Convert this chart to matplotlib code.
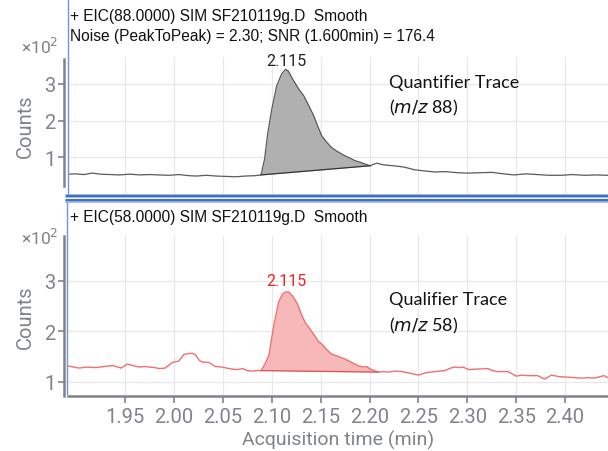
import matplotlib
matplotlib.use("Agg")
import matplotlib.pyplot as plt
from matplotlib.lines import Line2D
import numpy as np

# ---------------- data (counts in units of 10^2) ----------------
quant_time = [1.892, 1.899, 1.908, 1.916, 1.925, 1.935, 1.944, 1.955, 1.965, 1.975,
              1.984, 1.995, 2.005, 2.015, 2.023, 2.033, 2.043, 2.053, 2.063, 2.073,
              2.083, 2.089, 2.0926, 2.096, 2.100, 2.105, 2.110, 2.114, 2.117, 2.121,
              2.1276, 2.1327, 2.138, 2.1428, 2.147, 2.151, 2.156, 2.161, 2.167, 2.175,
              2.180, 2.185, 2.190, 2.195, 2.2006, 2.204, 2.208, 2.213, 2.220, 2.228,
              2.236, 2.246, 2.256, 2.267, 2.278, 2.290, 2.301, 2.313, 2.325, 2.337,
              2.348, 2.360, 2.372, 2.384, 2.396, 2.408, 2.420, 2.432, 2.444]
quant_counts = [0.54, 0.55, 0.53, 0.57, 0.54, 0.53, 0.52, 0.54, 0.52, 0.53,
                0.52, 0.51, 0.53, 0.50, 0.49, 0.51, 0.49, 0.48, 0.47, 0.49,
                0.50, 0.52, 0.95, 1.68, 2.31, 2.95, 3.27, 3.40, 3.35, 3.15,
                2.86, 2.68, 2.40, 2.14, 1.85, 1.59, 1.42, 1.27, 1.16, 1.04,
                0.98, 0.91, 0.87, 0.82, 0.77, 0.81, 0.84, 0.80, 0.78, 0.76,
                0.73, 0.66, 0.63, 0.60, 0.61, 0.58, 0.57, 0.58, 0.59, 0.55,
                0.52, 0.55, 0.53, 0.51, 0.51, 0.53, 0.51, 0.52, 0.51]
quant_peak = [2.089, 2.2006]          # integration start / end (min)
quant_rt = 2.115

qual_time = [1.892, 1.897, 1.903, 1.910, 1.920, 1.928, 1.937, 1.946, 1.952, 1.958,
             1.964, 1.970, 1.975, 1.980, 1.985, 1.991, 1.998, 2.005, 2.010, 2.015,
             2.019, 2.022, 2.026, 2.029, 2.036, 2.042, 2.049, 2.054, 2.059, 2.065,
             2.070, 2.075, 2.080, 2.085, 2.089, 2.093, 2.097, 2.102, 2.107, 2.111,
             2.114, 2.117, 2.119, 2.122, 2.126, 2.130, 2.134, 2.140, 2.145, 2.148,
             2.151, 2.156, 2.161, 2.168, 2.175, 2.182, 2.189, 2.194, 2.197, 2.202,
             2.209, 2.214, 2.219, 2.226, 2.233, 2.241, 2.250, 2.258, 2.267, 2.277,
             2.283, 2.287, 2.292, 2.296, 2.301, 2.310, 2.321, 2.326, 2.331, 2.342,
             2.350, 2.356, 2.362, 2.372, 2.379, 2.386, 2.394, 2.403, 2.410, 2.417,
             2.424, 2.430, 2.436, 2.440, 2.444]
qual_counts = [1.31, 1.29, 1.27, 1.29, 1.28, 1.30, 1.32, 1.27, 1.35, 1.32,
               1.29, 1.30, 1.29, 1.28, 1.26, 1.27, 1.38, 1.41, 1.54, 1.56,
               1.56, 1.53, 1.42, 1.39, 1.38, 1.30, 1.29, 1.27, 1.25, 1.24,
               1.26, 1.22, 1.21, 1.22, 1.22, 1.35, 1.52, 2.11, 2.58, 2.74,
               2.78, 2.78, 2.75, 2.68, 2.55, 2.35, 2.18, 2.02, 1.88, 1.79,
               1.75, 1.64, 1.55, 1.50, 1.45, 1.38, 1.31, 1.29, 1.30, 1.24,
               1.19, 1.20, 1.19, 1.21, 1.20, 1.17, 1.13, 1.18, 1.20, 1.22,
               1.27, 1.29, 1.28, 1.29, 1.24, 1.25, 1.26, 1.22, 1.20, 1.20,
               1.11, 1.13, 1.12, 1.12, 1.05, 1.13, 1.10, 1.09, 1.08, 1.07,
               1.08, 1.07, 1.10, 1.12, 1.08]
qual_peak = [2.089, 2.209]
qual_rt = 2.115

x_ticks = [1.95, 2.00, 2.05, 2.10, 2.15, 2.20, 2.25, 2.30, 2.35, 2.40]
y_ticks = [1, 2, 3]

title1 = "+ EIC(88.0000) SIM SF210119g.D  Smooth"
title1b = "Noise (PeakToPeak) = 2.30; SNR (1.600min) = 176.4"
title2 = "+ EIC(58.0000) SIM SF210119g.D  Smooth"

# ---------------- figure ----------------
W, H = 608, 452
fig = plt.figure(figsize=(W / 100, H / 100), dpi=100)

def px_rect(l, t, r, b):
    return [l / W, 1 - b / H, (r - l) / W, (b - t) / H]

GRAY = "#808389"
GRID = "#e8e8e8"
TICKFONT = "Roboto"

ax1 = fig.add_axes(px_rect(68, 58, 608, 195))
ax2 = fig.add_axes(px_rect(68, 237, 608, 397))

xlim = (1.8915, 2.444)
ax1.set_xlim(*xlim)
ax2.set_xlim(*xlim)
ax1.set_ylim(0.0, 3.736)
ax2.set_ylim(0.716, 3.89)

for ax in (ax1, ax2):
    for s in ("top", "right"):
        ax.spines[s].set_visible(False)
    ax.spines["left"].set_position(("outward", 3))
    ax.spines["left"].set_color(GRAY)
    ax.spines["left"].set_linewidth(1.8)
    ax.set_xticks(x_ticks)
    ax.set_yticks(y_ticks)
    ax.grid(True, color=GRID, linewidth=0.9)
    ax.set_axisbelow(True)
    ax.tick_params(axis="y", colors=GRAY, length=4, width=1.2, labelsize=14.5, pad=2)
    for lab in ax.get_yticklabels():
        lab.set_fontfamily(TICKFONT)
    ax.set_ylabel("Counts", color=GRAY, fontsize=14.5, fontfamily=TICKFONT, labelpad=7)

ax1.spines["bottom"].set_visible(False)
ax1.spines["left"].set_bounds(0.22, 3.68)
ax1.tick_params(axis="x", bottom=False, labelbottom=False)

ax2.spines["bottom"].set_color(GRAY)
ax2.spines["bottom"].set_linewidth(1.8)
ax2.tick_params(axis="x", colors=GRAY, length=5, width=1.2, labelsize=14.5, pad=3)
for lab in ax2.get_xticklabels():
    lab.set_fontfamily(TICKFONT)
ax2.set_xticklabels([f"{v:.2f}" for v in x_ticks])
ax2.set_xlabel("Acquisition time (min)", color=GRAY, fontsize=14,
               fontfamily=TICKFONT, labelpad=3)

# ---------------- traces ----------------
qt = np.array(quant_time); qc = np.array(quant_counts)
ax1.plot(qt, qc, color="#5a5a5a", linewidth=0.9, zorder=3)
m = (qt >= quant_peak[0]) & (qt <= quant_peak[1])
b0 = np.interp(quant_peak[0], qt, qc); b1 = np.interp(quant_peak[1], qt, qc)
base = b0 + (qt[m] - quant_peak[0]) / (quant_peak[1] - quant_peak[0]) * (b1 - b0)
ax1.fill_between(qt[m], base, qc[m], color="#b0b0b0", linewidth=0, zorder=2)
ax1.plot(quant_peak, [b0, b1], color="#333333", linewidth=0.9, zorder=3)
ax1.text(quant_rt, np.interp(quant_rt, qt, qc) + 0.04, f"{quant_rt:.3f}",
         ha="center", va="bottom", fontsize=11.5, fontfamily=TICKFONT, color="#222222")

lt = np.array(qual_time); lc = np.array(qual_counts)
ax2.plot(lt, lc, color="#f07070", linewidth=1.0, zorder=3)
m2 = (lt >= qual_peak[0]) & (lt <= qual_peak[1])
c0 = np.interp(qual_peak[0], lt, lc); c1 = np.interp(qual_peak[1], lt, lc)
base2 = c0 + (lt[m2] - qual_peak[0]) / (qual_peak[1] - qual_peak[0]) * (c1 - c0)
ax2.fill_between(lt[m2], base2, lc[m2], color="#f6b8b8", linewidth=0, zorder=2)
ax2.plot(qual_peak, [c0, c1], color="#e05050", linewidth=0.9, zorder=3)
ax2.text(qual_rt, np.interp(qual_rt, lt, lc) + 0.08, f"{qual_rt:.3f}",
         ha="center", va="bottom", fontsize=11.5, fontfamily=TICKFONT, color="#ee2222")

# annotations
ax1.text(2.2197, 3.05, "Quantifier Trace", fontsize=13, fontfamily="Lato",
         va="center", ha="left", color="#111111")
ax1.text(2.2197, 2.37, r"($\it{m/z}$ 88)", fontsize=13, fontfamily="Lato",
         va="center", ha="left", color="#111111")
ax2.text(2.2197, 2.64, "Qualifier Trace", fontsize=13, fontfamily="Lato",
         va="center", ha="left", color="#111111")
ax2.text(2.2197, 2.12, r"($\it{m/z}$ 58)", fontsize=13, fontfamily="Lato",
         va="center", ha="left", color="#111111")

# ×10² labels
for ypx in (47, 238):
    fig.text(58 / W, 1 - ypx / H, "×10$^2$", ha="right", va="center",
             fontsize=12.5, fontfamily=TICKFONT, color=GRAY)

# titles
fig.text(70 / W, 1 - 17 / H, title1, ha="left", va="center", fontsize=11.2,
         fontfamily="Liberation Sans", color="#111111")
fig.text(70 / W, 1 - 37 / H, title1b, ha="left", va="center", fontsize=11.2,
         fontfamily="Liberation Sans", color="#111111")
fig.text(70 / W, 1 - 218 / H, title2, ha="left", va="center", fontsize=11.2,
         fontfamily="Liberation Sans", color="#111111")

# blue panel frames
def hline(y, x0, x1, color, lw):
    fig.add_artist(Line2D([x0 / W, x1 / W], [1 - y / H, 1 - y / H], color=color,
                          linewidth=lw, transform=fig.transFigure))

def vline(x, y0, y1, color, lw):
    fig.add_artist(Line2D([x / W, x / W], [1 - y0 / H, 1 - y1 / H], color=color,
                          linewidth=lw, transform=fig.transFigure))

vline(67.5, 0, 196, "#6f96d8", 1.0)
vline(67.3, 201, 395, "#6f96d8", 1.0)
hline(196.8, 67, 608, "#8fb0e3", 2.6)
hline(197.0, 67, 608, "#3f6fc4", 1.5)
hline(201.6, 67, 608, "#8fb0e3", 2.6)
hline(201.4, 67, 608, "#3f6fc4", 1.5)

fig.savefig("out.png", dpi=100)
